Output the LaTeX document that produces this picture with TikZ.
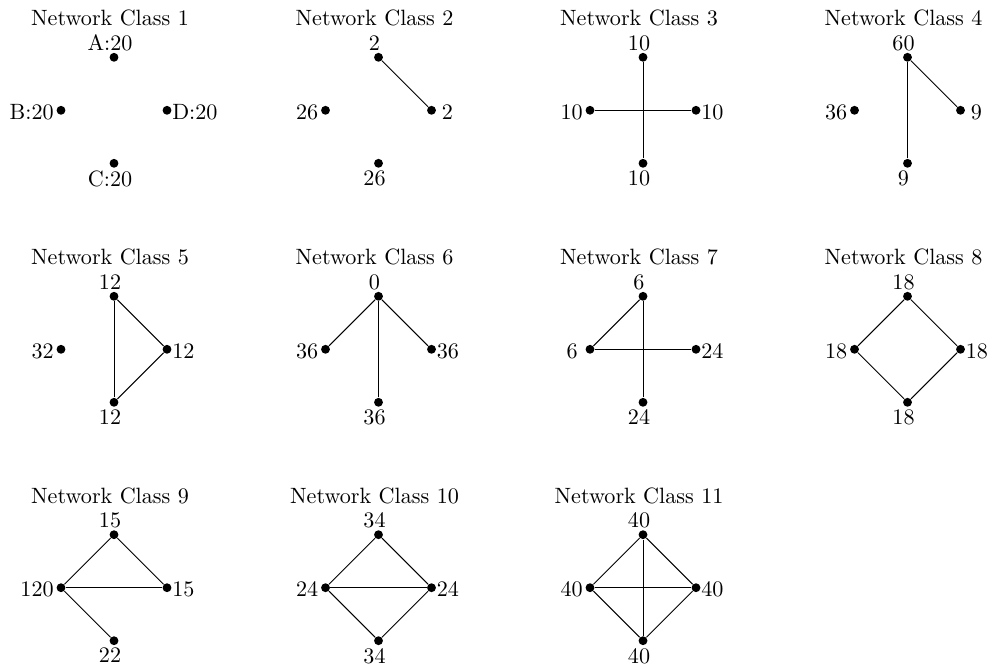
\documentclass[tikz,border=0pt]{standalone}
\tikzset{
  dot/.style={circle, fill=black, inner sep=0pt, minimum size=4pt},
  lab/.style={inner sep=0pt, minimum width=9.5pt},
  labT/.style={lab, xshift=-1.8pt, yshift=0.5pt},
  labB/.style={lab, xshift=-1.8pt, yshift=-0.9pt},
  labL/.style={lab, xshift=-0.9pt, yshift=-0.75pt},
  labR/.style={lab, xshift=0pt, yshift=-0.75pt},
  ctitle/.style={anchor=base, inner sep=0pt},
  edge/.style={line width=0.45pt}
}
\newcommand\netcls[7]{%
  \begin{scope}[shift={(#2,#3)}]
    \node[dot, label={[labT]above:{#4}}] (t#1) at (0,-53) {};
    \node[dot, label={[labL]left:{#5}}] (l#1) at (-53,0) {};
    \node[dot, label={[labR]right:{#6}}] (r#1) at (53,0) {};
    \node[dot, label={[labB]below:{#7}}] (b#1) at (0,53) {};
    \node[ctitle] (h#1) at (-4,-84.5) {Network Class #1};
  \end{scope}}
\begin{document}
\begin{tikzpicture}[x=0.4515pt, y=-0.4515pt]
  \useasboundingbox (0,0) rectangle (987,664);
  % row 1
  \netcls{1}{114}{110.3}{A:20}{B:20}{D:20}{C:20}
  \netcls{2}{378.5}{110.3}{2}{26}{2}{26}
  \netcls{3}{643}{110.3}{10}{10}{10}{10}
  \netcls{4}{907.5}{110.3}{60}{36}{9}{9}
  % row 2
  \netcls{5}{114}{349.3}{12}{32}{12}{12}
  \netcls{6}{378.5}{349.3}{0}{36}{36}{36}
  \netcls{7}{643}{349.3}{6}{6}{24}{24}
  \netcls{8}{907.5}{349.3}{18}{18}{18}{18}
  % row 3
  \netcls{9}{114}{587.7}{15}{120}{15}{22}
  \netcls{10}{378.5}{587.7}{34}{24}{24}{34}
  \netcls{11}{643}{587.7}{40}{40}{40}{40}
  % edges
  \draw[edge] (t2) -- (r2);
  \draw[edge] (t3) -- (b3);
  \draw[edge] (l3) -- (r3);
  \draw[edge] (t4) -- (b4);
  \draw[edge] (t4) -- (r4);
  \draw[edge] (t5) -- (r5);
  \draw[edge] (r5) -- (b5);
  \draw[edge] (t5) -- (b5);
  \draw[edge] (t6) -- (l6);
  \draw[edge] (t6) -- (r6);
  \draw[edge] (t6) -- (b6);
  \draw[edge] (t7) -- (l7);
  \draw[edge] (t7) -- (b7);
  \draw[edge] (l7) -- (r7);
  \draw[edge] (t8) -- (l8);
  \draw[edge] (t8) -- (r8);
  \draw[edge] (l8) -- (b8);
  \draw[edge] (r8) -- (b8);
  \draw[edge] (t9) -- (l9);
  \draw[edge] (t9) -- (r9);
  \draw[edge] (l9) -- (r9);
  \draw[edge] (l9) -- (b9);
  \draw[edge] (t10) -- (l10);
  \draw[edge] (t10) -- (r10);
  \draw[edge] (l10) -- (b10);
  \draw[edge] (r10) -- (b10);
  \draw[edge] (l10) -- (r10);
  \draw[edge] (t11) -- (l11);
  \draw[edge] (t11) -- (r11);
  \draw[edge] (l11) -- (b11);
  \draw[edge] (r11) -- (b11);
  \draw[edge] (l11) -- (r11);
  \draw[edge] (t11) -- (b11);
\end{tikzpicture}
\end{document}
